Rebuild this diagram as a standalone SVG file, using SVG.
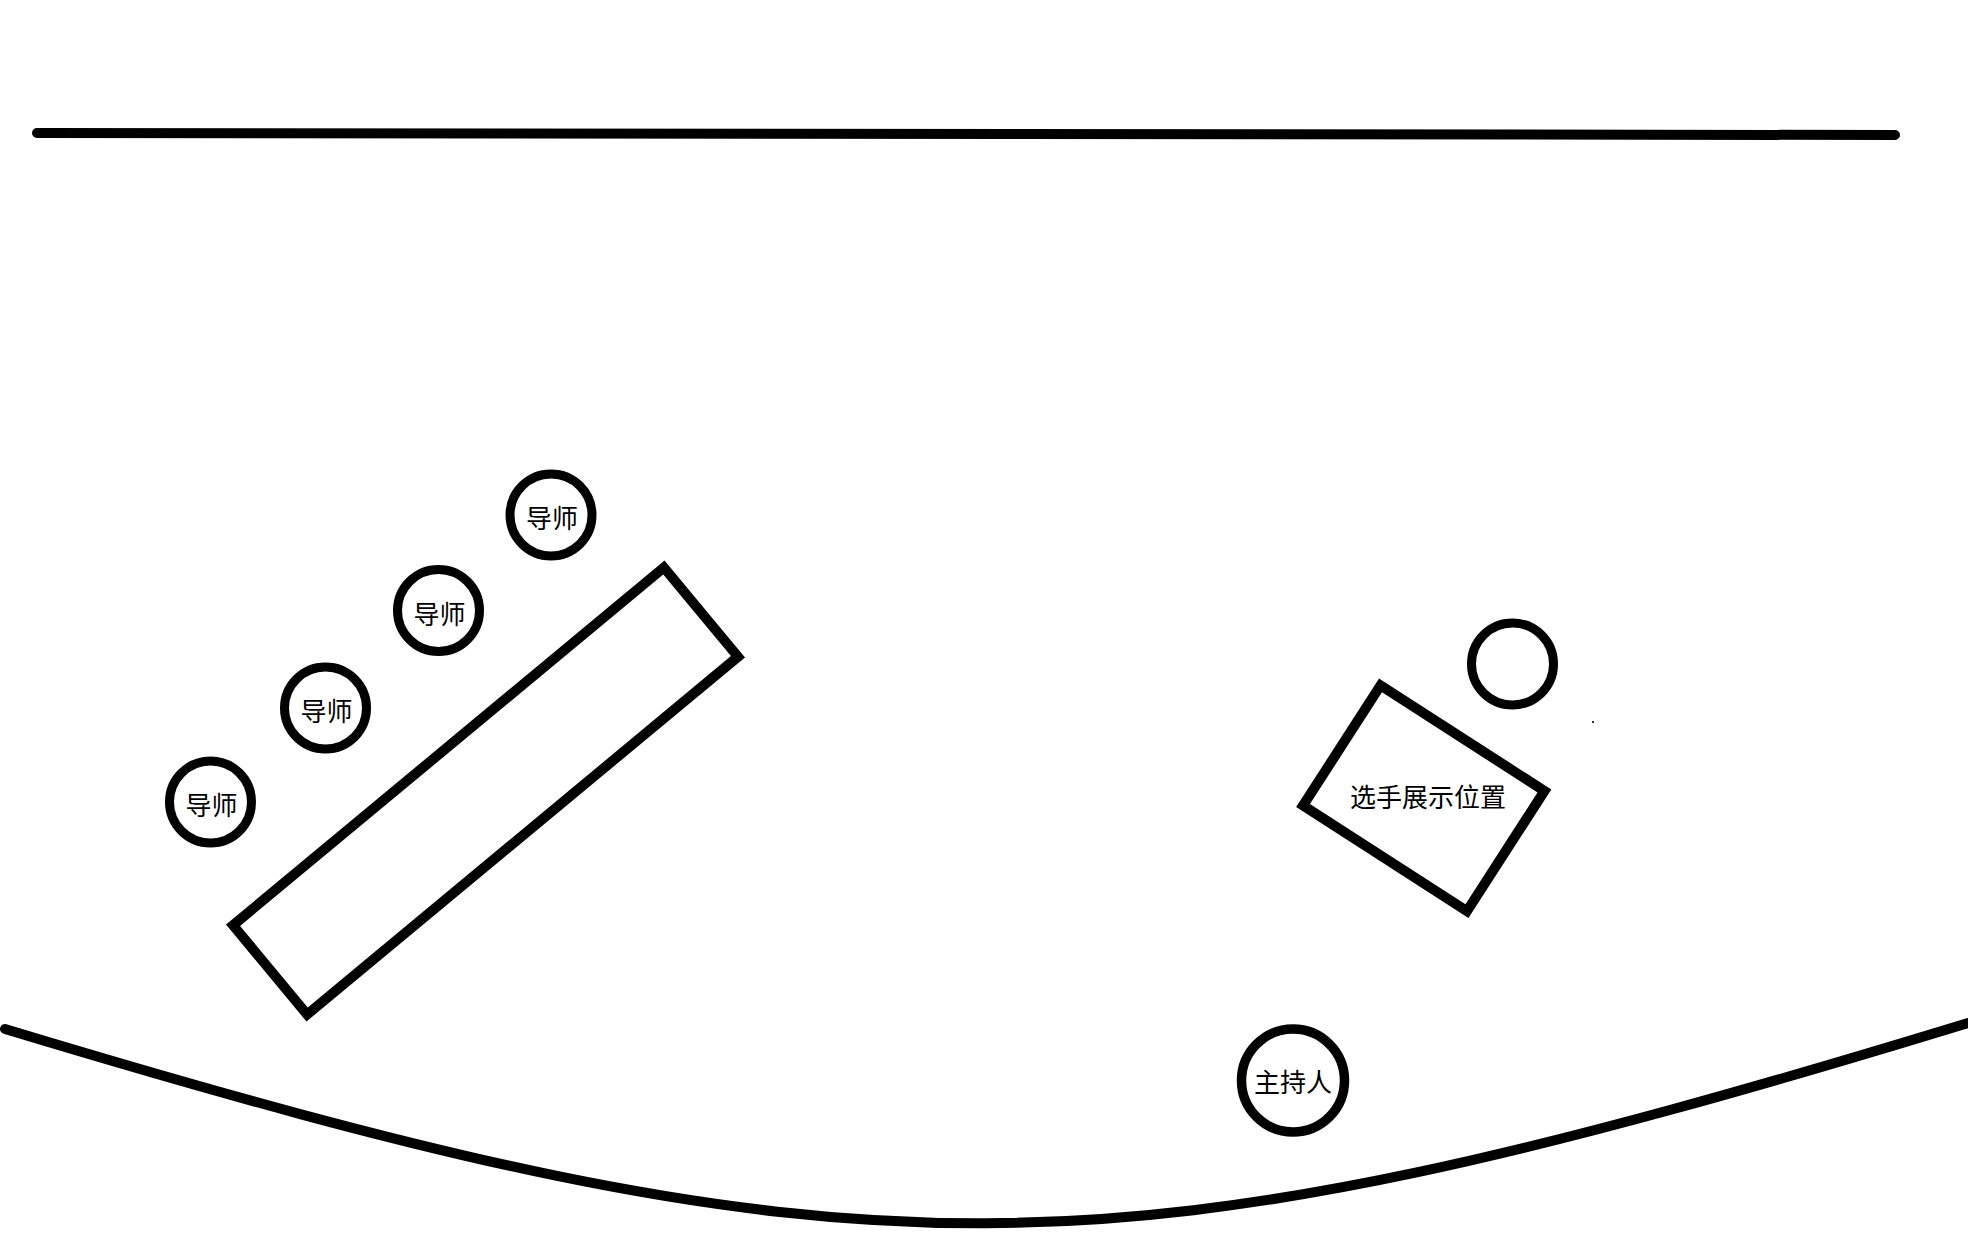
<svg xmlns="http://www.w3.org/2000/svg" width="1968" height="1248" viewBox="0 0 1968 1248">
<style>
.ln{fill:none;stroke:#000;stroke-width:10;stroke-linecap:round}
.c{fill:#fff;stroke:#000;stroke-width:9}
.box{fill:#fff;stroke:#000;stroke-width:10}
.t{font-family:"Noto Sans CJK SC","Noto Sans CJK JP",sans-serif;font-size:26px;fill:#000;text-anchor:middle}
</style>
<rect width="1968" height="1248" fill="#fff"/>
<g id="stage-lines">
<line class="ln" x1="37" y1="133" x2="1895" y2="135"/>
<path class="ln" d="M 5 1029 C 870 1290 1100 1288 1968 1023"/>
</g>
<g id="judges-table">
<rect class="box" x="-280" y="-58" width="560" height="116" transform="translate(485.5 791) rotate(-39.7)"/>
</g>
<g id="mentor-1">
<circle class="c" cx="551" cy="515" r="41"/>
<text class="t" x="552" y="528">导师</text>
</g>
<g id="mentor-2">
<circle class="c" cx="438.5" cy="610.5" r="41"/>
<text class="t" x="439.5" y="623.5">导师</text>
</g>
<g id="mentor-3">
<circle class="c" cx="325.5" cy="708" r="41"/>
<text class="t" x="326.5" y="721">导师</text>
</g>
<g id="mentor-4">
<circle class="c" cx="210.5" cy="802" r="41"/>
<text class="t" x="211.5" y="815">导师</text>
</g>
<g id="contestant-area">
<rect class="box" x="-97.5" y="-71.5" width="195" height="143" transform="translate(1423.75 798.25) rotate(32.8)"/>
<text class="t" x="1428" y="807">选手展示位置</text>
</g>
<g id="empty-seat">
<circle class="c" cx="1512.5" cy="664" r="41"/>
</g>
<g id="host">
<circle class="c" cx="1293" cy="1080.5" r="51.5" style="stroke-width:9.5"/>
<text class="t" x="1293" y="1092">主持人</text>
</g>
<g id="dot">
<rect x="1592" y="721" width="2" height="2" fill="#333"/>
</g>
</svg>
